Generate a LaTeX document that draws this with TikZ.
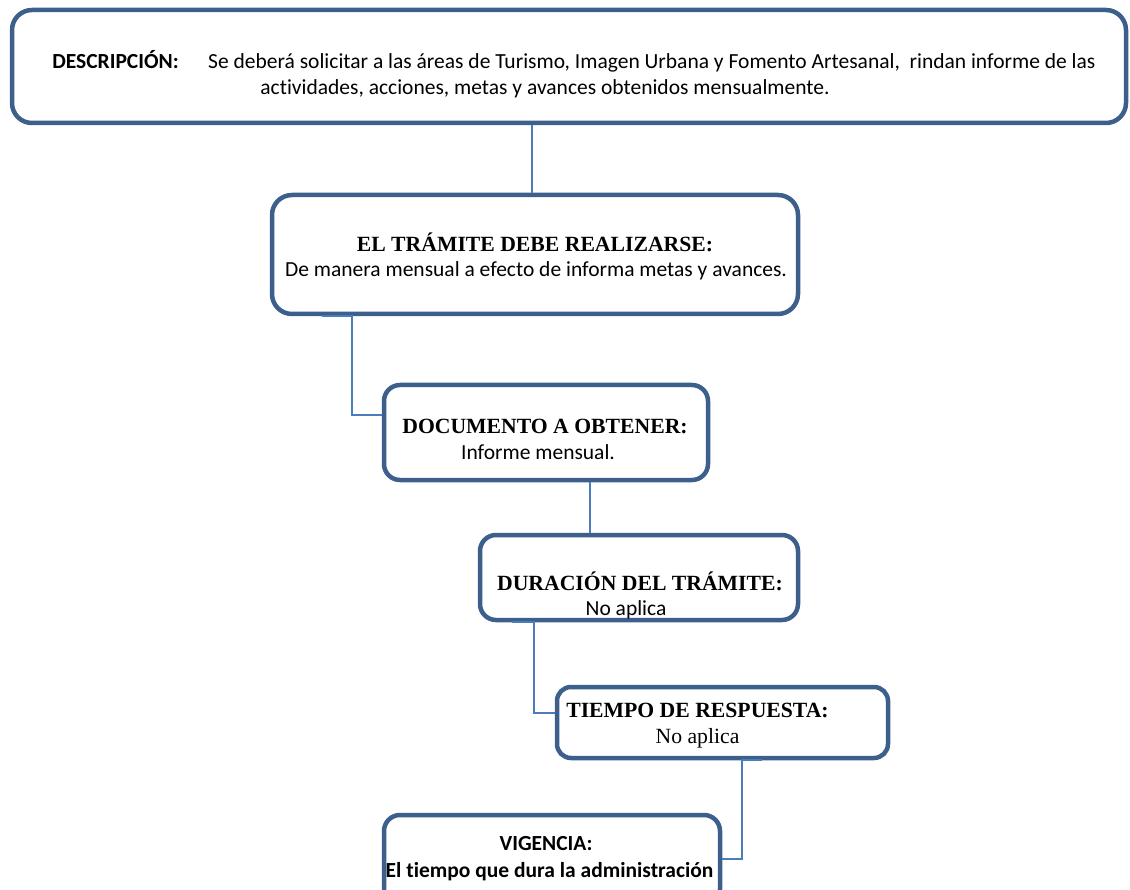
\documentclass[tikz,border=0pt]{standalone}
\usepackage{fontspec}
\setmainfont{Carlito}[RawFeature=-liga]
\newfontfamily\headfont{Liberation Serif}
\definecolor{boxline}{HTML}{3C5F8C}
\definecolor{linkline}{HTML}{4A7EBB}
\begin{document}
\begin{tikzpicture}[x=1pt,y=-1pt,
  box/.style={draw=boxline, line width=4.5pt, rounded corners=20pt, rectangle, fill=white, inner sep=0pt},
  link/.style={draw=linkline, line width=1.8pt},
  txt/.style={anchor=base, inner sep=0pt, font=\fontsize{21.5}{25}\selectfont},
  btxt/.style={txt, font=\fontsize{21.5}{25}\selectfont\bfseries},
  head/.style={anchor=base, inner sep=0pt, font=\fontsize{21.7}{25}\selectfont\headfont\bfseries}]
\useasboundingbox (0,0) rectangle (1130,890);
% boxes
\node[box, minimum width=1114pt, minimum height=113pt] (b1) at (569,66.5) {};
\node[box, minimum width=526pt, minimum height=119pt] (b2) at (535,254.5) {};
\node[box, minimum width=324pt, minimum height=95pt, rounded corners=16pt] (b3) at (546,432.5) {};
\node[box, minimum width=318pt, minimum height=85pt, rounded corners=16pt] (b4) at (639,577.5) {};
\node[box, minimum width=331pt, minimum height=71pt, rounded corners=14pt] (b5) at (722.5,722.5) {};
\node[box, minimum width=336pt, minimum height=90pt, rounded corners=16pt] (b6) at (552,860) {};
% connectors
\draw[link] (b1.south -| 532,0) -- (b2.north -| 532,0);
\draw[link] (b2.south -| 322,0) -- (b2.south -| 352,0) -- (352,415) -- (b3.west |- 0,415);
\draw[link] (b3.south -| 590,0) -- (b4.north -| 590,0);
\draw[link] (b4.south -| 512,0) -- (b4.south -| 534,0) -- (534,713) -- (b5.west |- 0,713);
\draw[link] (b5.south -| 762,0) -- (b5.south -| 742,0) -- (742,859) -- (b6.east |- 0,859);
% texts
\node[btxt] (t1a) at (115.5,69) {DESCRIPCIÓN:};
\node[txt, anchor=base west] (t1b) at (208,69) {Se deberá solicitar a las áreas de Turismo, Imagen Urbana y Fomento Artesanal,\ \ rindan informe de las};
\node[txt] (t1c) at (545,95) {actividades, acciones, metas y avances obtenidos mensualmente.};
\node[head] (t2a) at (535,252) {EL TRÁMITE DEBE REALIZARSE:};
\node[txt] (t2b) at (536,277) {De manera mensual a efecto de informa metas y avances.};
\node[head] (t3a) at (545,433) {DOCUMENTO A OBTENER:};
\node[txt] (t3b) at (538,460) {Informe mensual.};
\node[head] (t4a) at (640,590) {DURACIÓN DEL TRÁMITE:};
\node[txt] (t4b) at (626,615) {No aplica};
\node[head] (t5a) at (697.5,717) {TIEMPO DE RESPUESTA:};
\node[txt, font=\fontsize{21.7}{25}\selectfont\headfont] (t5b) at (697.5,743) {No aplica};
\node[btxt] (t6a) at (546,850) {VIGENCIA:};
\node[btxt] (t6b) at (549.5,877) {El tiempo que dura la administración};
\end{tikzpicture}
\end{document}
